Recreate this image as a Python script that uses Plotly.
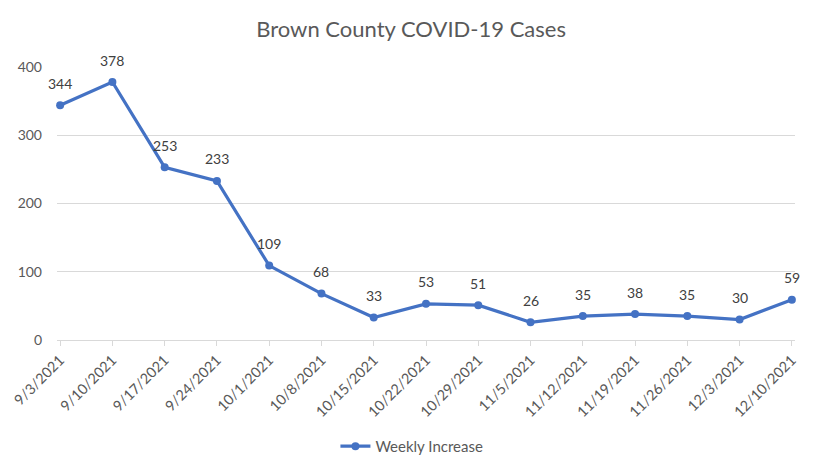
import plotly.graph_objects as go

dates = ["9/3/2021", "9/10/2021", "9/17/2021", "9/24/2021", "10/1/2021", "10/8/2021",
         "10/15/2021", "10/22/2021", "10/29/2021", "11/5/2021", "11/12/2021",
         "11/19/2021", "11/26/2021", "12/3/2021", "12/10/2021"]
weekly_increase = [344, 378, 253, 233, 109, 68, 33, 53, 51, 26, 35, 38, 35, 30, 59]
y_ticks = [0, 100, 200, 300, 400]

FONT = "Lato, Open Sans, sans-serif"
GREY = "#595959"
GRID = "#d9d9d9"
BLUE = "#4472C4"

fig = go.Figure()
fig.add_trace(go.Scatter(
    x=dates, y=weekly_increase, mode="lines+markers",
    name="Weekly Increase",
    line=dict(color=BLUE, width=3.2),
    marker=dict(color=BLUE, size=8),
    cliponaxis=False,
))

for d, v in zip(dates, weekly_increase):
    fig.add_annotation(x=d, y=v, text=str(v), showarrow=False,
                       yshift=22, font=dict(family=FONT, size=14, color="#404040"))

# page body has an 8px margin, so the figure is laid out 8px up/left
fig.update_layout(
    width=821, height=474,
    paper_bgcolor="white", plot_bgcolor="white",
    margin=dict(l=49, r=34, t=59, b=142),
    title=dict(text="Brown County COVID-19 Cases", x=0.491, xanchor="center",
               y=0.955, yanchor="middle",
               font=dict(family=FONT, size=22, color=GREY)),
    font=dict(family=FONT, color=GREY),
    showlegend=True,
    legend=dict(orientation="h", xref="container", yref="container",
                x=0.492, xanchor="center", y=0.075, yanchor="middle",
                font=dict(family=FONT, size=15, color=GREY)),
    xaxis=dict(type="category", range=[-0.06, 14.06], automargin=False,
               tickangle=-45, tickfont=dict(family=FONT, size=14.5, color=GREY),
               showline=True, linecolor=GRID, linewidth=1,
               ticks="outside", ticklen=5, tickcolor=GRID,
               showgrid=False, zeroline=False),
    yaxis=dict(range=[0, 400], tickvals=y_ticks, automargin=False,
               tickfont=dict(family=FONT, size=14, color=GREY),
               showgrid=True, gridcolor=GRID, gridwidth=1,
               zeroline=False, showline=False, ticks="", ticklabelstandoff=14),
)

fig.write_html("out.html")
